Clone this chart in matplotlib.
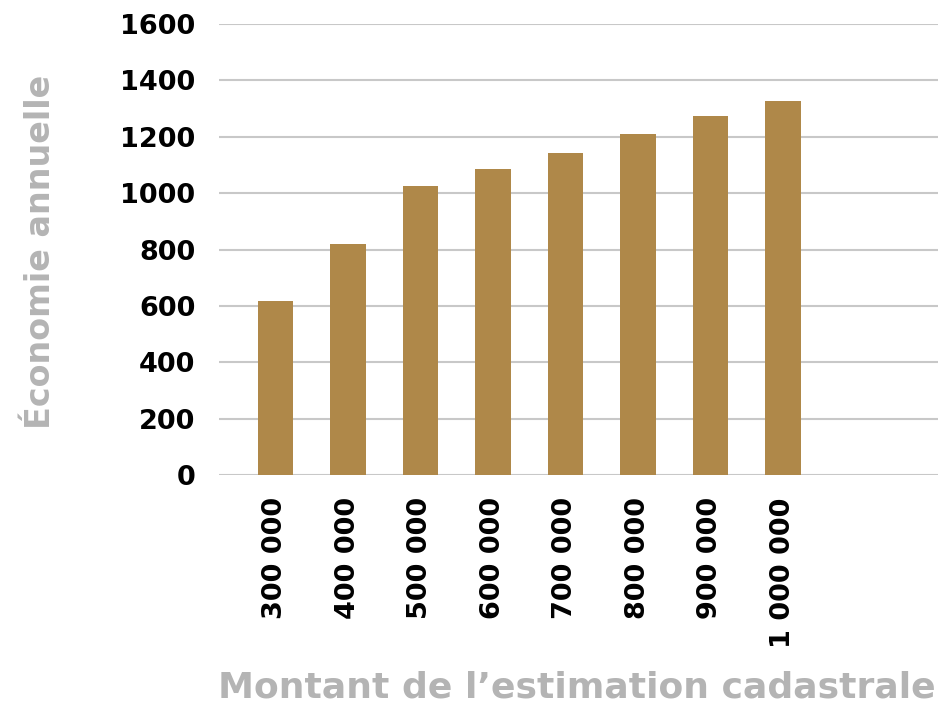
import matplotlib
matplotlib.use("Agg")
import matplotlib.pyplot as plt

# Données
estimations = ["300 000", "400 000", "500 000", "600 000",
               "700 000", "800 000", "900 000", "1 000 000"]
economies = [616, 819, 1024, 1087, 1142, 1209, 1274, 1327]
graduations_y = [0, 200, 400, 600, 800, 1000, 1200, 1400, 1600]

COULEUR_BARRE = "#AF8849"
GRIS_TITRE = "#B4B4B4"

plt.rcParams['font.family'] = ['DejaVu Sans']

fig = plt.figure(figsize=(9.38, 7.04), dpi=100)
ax = fig.add_axes([219 / 938, 1 - 475 / 704, 1 - 219 / 938, (475 - 24) / 704])

positions = list(range(len(estimations)))
ax.bar(positions, economies, width=0.49, color=COULEUR_BARRE, zorder=3)

ax.set_ylim(0, 1600)
ax.set_xlim(-0.779, 9.138)
ax.set_yticks(graduations_y)
ax.set_yticklabels([str(v) for v in graduations_y], fontsize=19.5, fontweight='bold')
ax.set_xticks(positions)
ax.set_xticklabels(estimations, rotation=90, fontsize=19.5, fontweight='bold',
                   va='top', ha='center')

ax.grid(axis='y', color='#C8C8C8', linewidth=1.5, zorder=0)
for cote in ax.spines.values():
    cote.set_visible(False)
ax.tick_params(axis='both', length=0)
ax.tick_params(axis='y', pad=17)
ax.tick_params(axis='x', pad=16)

# titres des axes en gris
fig.text(40 / 938, 1 - 252 / 704, "Économie annuelle", rotation=90,
         ha='center', va='center', fontsize=24, fontweight='bold', color=GRIS_TITRE)
fig.text(577 / 938, 1 - 688 / 704, "Montant de l\u2019estimation cadastrale",
         ha='center', va='center', fontsize=26, fontweight='bold', color=GRIS_TITRE)

plt.savefig('out.png', dpi=100)
